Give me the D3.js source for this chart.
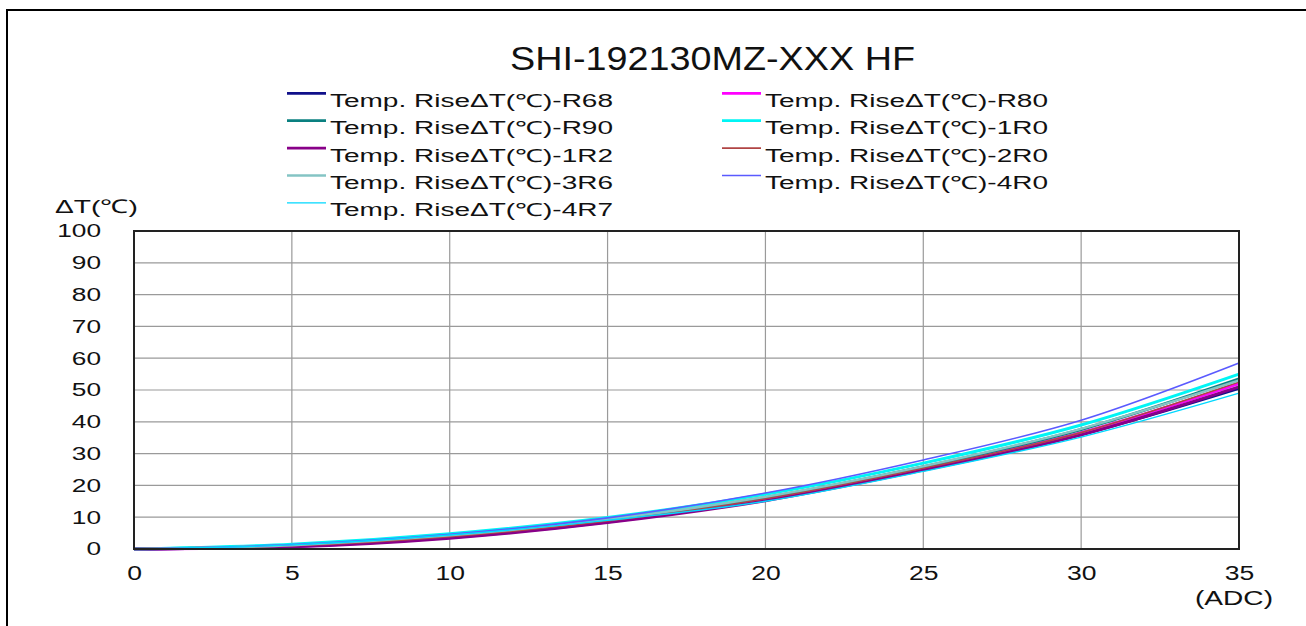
<!DOCTYPE html>
<html>
<head>
<meta charset="utf-8">
<script src="https://cdn.jsdelivr.net/npm/d3@7"></script>
<style>
  body { margin: 0; background: #fff; }
  text { font-family: "Liberation Sans", Arial, sans-serif; fill: #111; }
</style>
</head>
<body>
<div id="chart"></div>
<script>
const current = [0, 5, 10, 15, 20, 25, 30, 35];

const seriesNames = ['R68', 'R80', 'R90', '1R0', '1R2', '2R0', '3R6', '4R0', '4R7'];
const seriesColors = ['#10108a', '#ff00ff', '#0a8080', '#00f5f5', '#880088', '#b04444', '#84c4c4', '#5a5aff', '#00d8ff'];
const seriesWidths = [3, 3, 3, 3, 3, 1.6, 2.4, 1.6, 1.4];

const r68 = [0, 0.9, 3.7, 8.6, 15.5, 25.0, 36.0, 50.5];
const r80 = [0, 0.8, 3.6, 8.5, 15.6, 25.4, 36.6, 52];
const r90 = [0, 1.1, 4.1, 9.1, 16.2, 25.9, 37.6, 53.5];
const r1r0 = [0, 1.5, 4.8, 9.9, 17.2, 27.0, 39.0, 55];
const r1r2 = [0, 0.7, 3.4, 8.3, 15.2, 24.8, 35.9, 51];
const r2r0 = [0, 1.0, 3.9, 8.8, 15.8, 25.4, 36.6, 52.5];
const r3r6 = [0, 1.2, 4.3, 9.3, 16.4, 26.0, 37.8, 53];
const r4r0 = [0, 1.4, 4.6, 9.8, 17.6, 28.0, 40.5, 58.5];
const r4r7 = [0, 1.3, 4.4, 9.0, 15.0, 24.4, 35.2, 49];

const allValues = [r68, r80, r90, r1r0, r1r2, r2r0, r3r6, r4r0, r4r7];

const xTicks = [0, 5, 10, 15, 20, 25, 30, 35];
const yTicks = [0, 10, 20, 30, 40, 50, 60, 70, 80, 90, 100];

const W = 1306, H = 626;
const svg = d3.select('#chart').append('svg').attr('width', W).attr('height', H);

// outer frame
svg.append('rect')
    .attr('x', 7).attr('y', 10).attr('width', W).attr('height', H)
    .attr('fill', 'none').attr('stroke', '#000').attr('stroke-width', 2);

const x = d3.scaleLinear().domain([0, 35]).range([134, 1239]);
const y = d3.scaleLinear().domain([0, 100]).range([549, 231]);

svg.append('text')
    .attr('x', 510).attr('y', 70)
    .attr('textLength', 405).attr('lengthAdjust', 'spacingAndGlyphs')
    .style('font-size', '34px')
    .text('SHI-192130MZ-XXX HF');

// grid
svg.append('g')
    .selectAll('line')
    .data(yTicks)
    .enter()
    .append('line')
    .attr('x1', x(0)).attr('x2', x(35))
    .attr('y1', d => y(d)).attr('y2', d => y(d))
    .attr('stroke', '#9a9a9a').attr('stroke-width', 1.2);

svg.append('g')
    .selectAll('line')
    .data(xTicks)
    .enter()
    .append('line')
    .attr('x1', d => x(d)).attr('x2', d => x(d))
    .attr('y1', y(0)).attr('y2', y(100))
    .attr('stroke', '#9a9a9a').attr('stroke-width', 1.2);

// axes labels (source text is horizontally stretched)
const sx = 1.42;
const yAxis = d3.axisLeft(y).tickValues(yTicks).tickSize(0).tickPadding(33);
const gy = svg.append('g').attr('transform', `translate(${x(0)},0)`).call(yAxis);
gy.select('.domain').remove();
gy.selectAll('text')
    .attr('x', -33 / sx)
    .attr('transform', `scale(${sx},1)`)
    .style('font-size', '18.5px')
    .attr('font-family', null).attr('fill', '#111');

const xAxis = d3.axisBottom(x).tickValues(xTicks).tickSize(0).tickPadding(17);
const gx = svg.append('g').attr('transform', `translate(0,${y(0)})`).call(xAxis);
gx.select('.domain').remove();
gx.selectAll('text')
    .attr('transform', 'scale(1.36,1)')
    .style('font-size', '19.5px')
    .attr('font-family', null).attr('fill', '#111');

svg.append('text')
    .attr('x', 55).attr('y', 213)
    .attr('textLength', 83).attr('lengthAdjust', 'spacingAndGlyphs')
    .style('font-size', '19px')
    .text('ΔT(℃)');

svg.append('text')
    .attr('x', 1195).attr('y', 605)
    .attr('textLength', 78).attr('lengthAdjust', 'spacingAndGlyphs')
    .style('font-size', '20px')
    .text('(ADC)');

// lines
const line = d3.line()
    .x((d, i) => x(current[i]))
    .y(d => y(d))
    .curve(d3.curveMonotoneX);

svg.append('g')
    .selectAll('path')
    .data(allValues)
    .enter()
    .append('path')
    .attr('fill', 'none')
    .attr('stroke', (d, i) => seriesColors[i])
    .attr('stroke-width', (d, i) => seriesWidths[i])
    .attr('d', line);

// plot border
svg.append('rect')
    .attr('x', x(0)).attr('y', y(100))
    .attr('width', x(35) - x(0)).attr('height', y(0) - y(100))
    .attr('fill', 'none').attr('stroke', '#222').attr('stroke-width', 2);

// legend
const legend = svg.append('g')
    .selectAll('g')
    .data(seriesNames)
    .enter()
    .append('g')
    .attr('transform', (d, i) => `translate(${i % 2 ? 722 : 287},${93.3 + Math.floor(i / 2) * 27.4})`);

legend.append('line')
    .attr('x1', 0).attr('x2', 39)
    .attr('stroke', (d, i) => seriesColors[i])
    .attr('stroke-width', (d, i) => Math.min(seriesWidths[i], 2.8));

legend.append('text')
    .attr('x', 43).attr('y', 13.4)
    .attr('textLength', 283).attr('lengthAdjust', 'spacingAndGlyphs')
    .style('font-size', '18px')
    .text(d => 'Temp. RiseΔT(℃)-' + d);
</script>
</body>
</html>
